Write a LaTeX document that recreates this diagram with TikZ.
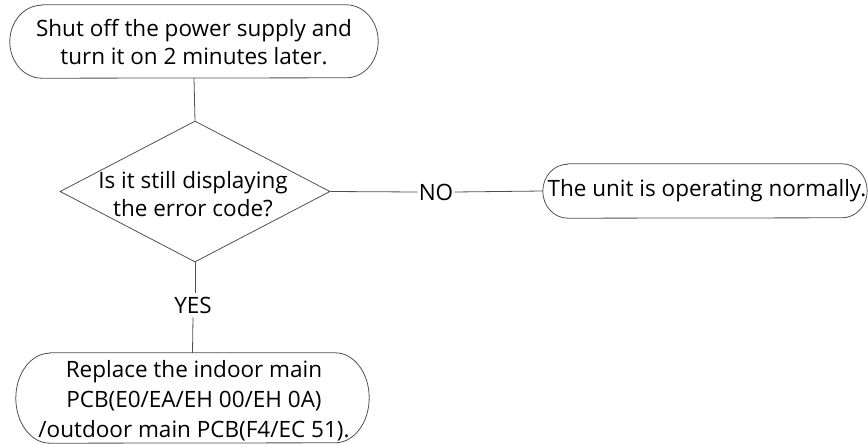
\documentclass[tikz,border=0pt]{standalone}
\usepackage{fontspec}
\setmainfont{Open Sans}
\usetikzlibrary{shapes.geometric}
\definecolor{linec}{HTML}{505050}
\tikzset{
  txt/.style={font=\fontsize{22.5}{28}\selectfont, align=center, text=black, inner sep=0pt},
  box/.style={draw=none, inner sep=0pt},
  conn/.style={draw=linec, line width=0.8pt},
  outline/.style={draw=linec, line width=0.8pt},
  lbl/.style={font=\fontsize{22.5}{26}\selectfont, text=black, inner sep=1pt},
}
\newcommand{\stadium}[3]{%
  \draw[outline] ([xshift=#2pt]#1.north west) -- ([xshift=-#2pt]#1.north east)
    arc[start angle=90, end angle=-90, x radius=#2pt, y radius=#3pt]
    -- ([xshift=#2pt]#1.south west)
    arc[start angle=270, end angle=90, x radius=#2pt, y radius=#3pt] -- cycle;}
\begin{document}
\begin{tikzpicture}[x=1pt, y=-1pt]
\useasboundingbox (0,0) rectangle (868,444);
% top terminator
\node[box, minimum width=368pt, minimum height=73pt] (top) at (194,41.5) {};
\stadium{top}{32}{36.5}
\node[txt] (toptxt) at (194,42) {Shut off the power supply and\\turn it on 2 minutes later.};
% decision
\node[diamond, draw=linec, line width=0.8pt, minimum width=270pt, minimum height=141pt, inner sep=0pt] (dec) at (195,191.5) {};
\node[txt] (dectxt) at (193,194) {Is it still displaying\\the error code?};
% right terminator
\node[box, minimum width=324pt, minimum height=54pt] (ok) at (705,191) {};
\stadium{ok}{25}{27}
\node[txt] (oktxt) at (707,191) {The unit is operating normally.};
% bottom terminator
\node[box, minimum width=353pt, minimum height=90pt] (rep) at (192.5,398) {};
\stadium{rep}{34}{45}
\node[txt, font=\fontsize{22.5}{30}\selectfont] (reptxt) at (194,401) {Replace the indoor main\\PCB(E0/EA/EH 00/EH 0A)\\/outdoor main PCB(F4/EC 51).};
% labels
\node[lbl] (no) at (436,192) {NO};
\node[lbl, inner sep=4pt] (yes) at (193,305) {YES};
% connectors
\draw[conn] (top.south) -- (dec.north);
\draw[conn] (dec.east) -- (no.west);
\draw[conn] (no.east) -- (ok.west);
\draw[conn] (dec.south) -- (dec.south |- yes.north);
\draw[conn] (yes.south) -- (rep.north);
\end{tikzpicture}
\end{document}
